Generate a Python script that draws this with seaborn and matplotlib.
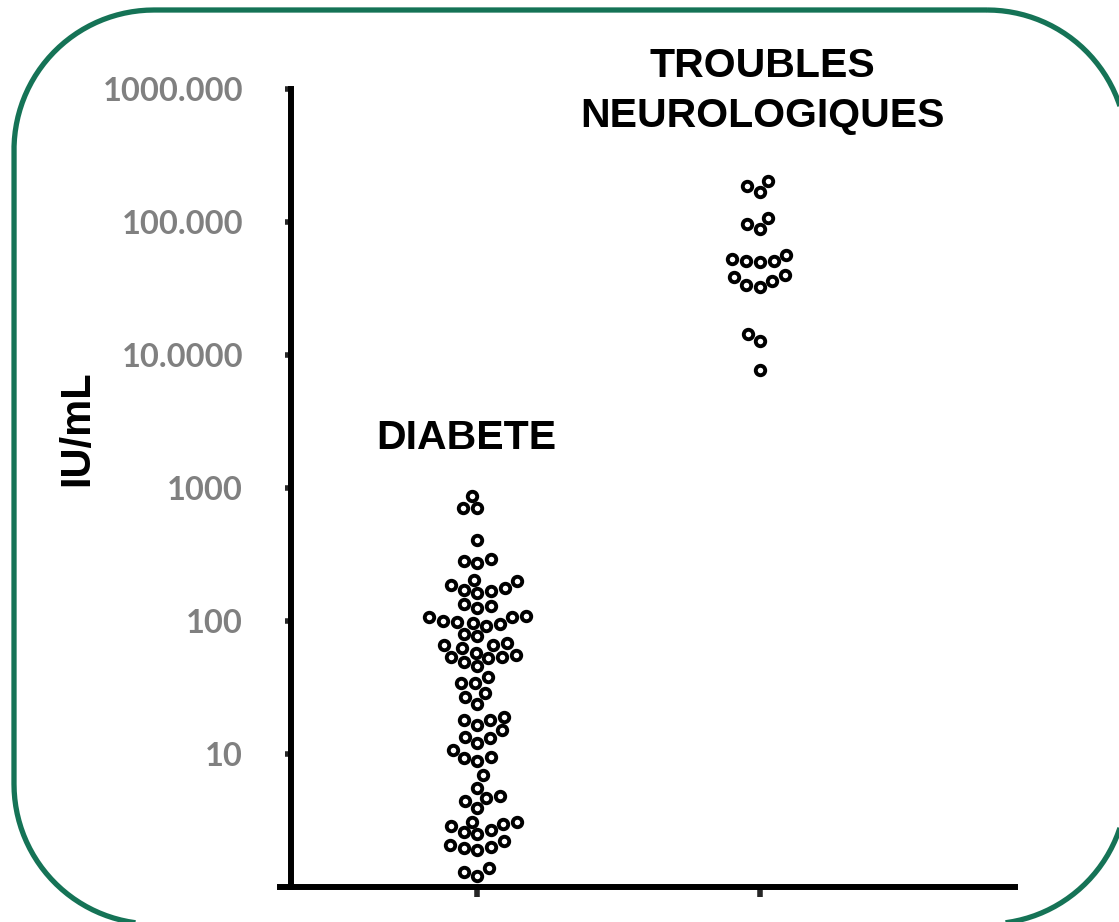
import matplotlib
matplotlib.use("Agg")
from matplotlib import pyplot as plt
from matplotlib.lines import Line2D
from matplotlib.transforms import IdentityTransform
import seaborn as sns
import pandas as pd
import numpy as np

# valeurs (UI/mL)
diabete = [870, 710, 705, 406, 283, 272, 293,
           203, 186, 170, 162, 168, 177, 200,
           130, 125, 134,
           107, 101, 98, 92, 96, 95, 107, 109,
           77, 66, 66, 68, 80,
           63, 54, 54, 49, 53, 56, 58,
           46, 38, 34, 34, 27, 29, 24,
           18, 19, 16.5, 18,
           13.4, 15.1, 12.1, 13.2,
           9.5, 8.8, 9.3, 10.7,
           6.9, 5.6,
           4.7, 3.9, 4.4, 4.8,
           3.1, 2.9, 2.6, 2.5, 2.7, 3.0, 3.1,
           2.2, 2.0, 1.9, 1.96, 2.07,
           1.39, 1.30, 1.21]
troubles = [187000, 170000, 205000,
            107000, 89000, 98000,
            53000, 51000, 50000, 51500, 57000,
            40000, 36500, 32500, 34000, 38500,
            14400, 12800, 7800]
groupes = ["DIABETE", "TROUBLES\nNEUROLOGIQUES"]
yticks = [10, 100, 1000, 10000, 100000, 1000000]
ytick_labels = ["10", "100", "1000", "10.0000", "100.000", "1000.000"]

df = pd.DataFrame({
    "groupe": [groupes[0]] * len(diabete) + [groupes[1]] * len(troubles),
    "valeur": diabete + troubles,
})

sns.set_style("white")
plt.rcParams["font.family"] = ["Liberation Sans", "DejaVu Sans"]
plt.rcParams["text.color"] = "black"
plt.rcParams["axes.labelcolor"] = "black"

fig = plt.figure(figsize=(11.19, 9.22), dpi=100)
ax = fig.add_axes([0.25, 0.038, 0.657, 0.865])

sns.swarmplot(data=df, x="groupe", y="valeur", color="white", edgecolor="black",
              linewidth=2.8, size=6.8, log_scale=True, ax=ax)

ax.set_ylim(1, 1000000)
ax.set_xlim(-0.70, 1.904)
ax.minorticks_off()

for side in ["top", "right"]:
    ax.spines[side].set_visible(False)
for side in ["left", "bottom"]:
    ax.spines[side].set_linewidth(4.3)
    ax.spines[side].set_color("black")
ax.spines["left"].set_position(("data", -0.66))
ax.tick_params(axis="y", direction="out", length=4.5, width=4, pad=30, left=True,
               labelsize=23.5, labelcolor="#808080")
ax.tick_params(axis="x", direction="out", length=7, width=4, bottom=True)

ax.set_yticks(yticks)
ax.set_yticklabels(ytick_labels)
for lbl in ax.get_yticklabels():
    lbl.set_fontfamily("Lato")
    lbl.set_fontweight("bold")
ax.set_xticks([0, 1])
ax.set_xticklabels(["", ""])
ax.set_xlabel("")
ax.set_ylabel("IU/mL", fontsize=30, fontweight="bold")
ax.yaxis.set_label_coords(-0.248, 0.575)

# titres des groupes
ax.text(-0.04, 2400, groupes[0], ha="center", va="center", fontsize=29.5,
        fontweight="bold")
ax.text(1.01, 980000, groupes[1], ha="center", va="center", fontsize=29.5,
        fontweight="bold", linespacing=1.4)

# cadre vert arrondi, en pixels, seule la partie visible est gardee
W, H = 1119, 922
x0, x1, yt, yb, r = 14, 1127, 10, 924, 140
coins = [((x1 - r, yt + r), -90, 0), ((x1 - r, yb - r), 0, 90),
         ((x0 + r, yb - r), 90, 180), ((x0 + r, yt + r), 180, 270)]
xs, ys = [], []
for (cx, cy), a0, a1 in coins:
    t = np.radians(np.linspace(a0, a1, 60))
    xs.extend(cx + r * np.cos(t))
    ys.extend(cy + r * np.sin(t))
xs.append(xs[0])
ys.append(ys[0])
xs = np.array(xs)
ys = H - np.array(ys)
masque = (xs > W + 1) | (ys < -1)
xs[masque] = np.nan
ys[masque] = np.nan
fig.add_artist(Line2D(xs, ys, transform=IdentityTransform(), color="#157356",
                      linewidth=3.8, solid_capstyle="butt"))

fig.savefig("out.png", dpi=100)
